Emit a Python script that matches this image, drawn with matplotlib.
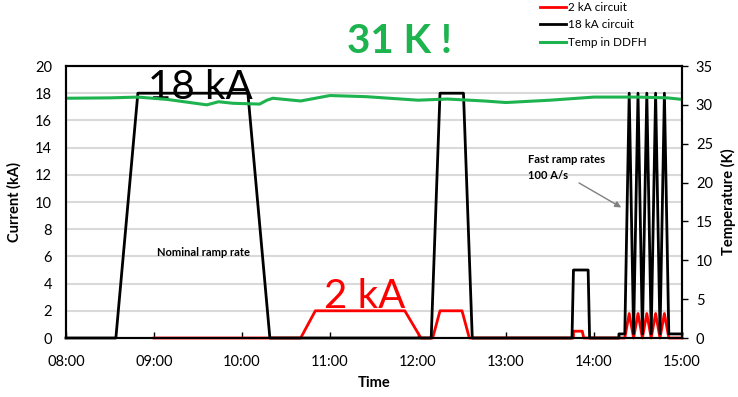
import matplotlib
matplotlib.use("Agg")
import matplotlib.pyplot as plt
import numpy as np

plt.rcParams["font.family"] = ["Lato", "DejaVu Sans"]

# -----------------------------
# data
# -----------------------------
t_18ka = ["08:00", "08:34", "08:49", "10:04", "10:19", "12:09", "12:15", "12:31",
          "12:37", "13:45", "13:46", "13:56", "13:57", "14:17", "14:17", "14:21",
          "14:24", "14:27", "14:30", "14:33", "14:36", "14:39", "14:42", "14:45",
          "14:48", "14:51", "15:00"]
i_18ka = [0, 0, 18, 18, 0, 0, 18, 18,
          0, 0, 5, 5, 0, 0, 0.3, 0.3,
          18, 0.3, 18, 0.3, 18, 0.3, 18, 0.3,
          18, 0.3, 0.3]

t_2ka = ["09:00", "10:40", "10:50", "11:51", "12:02", "12:10", "12:15", "12:30",
         "12:35", "13:46", "13:46", "13:52", "13:53", "14:21", "14:24", "14:27",
         "14:30", "14:33", "14:36", "14:39", "14:42", "14:45", "14:48", "14:51",
         "15:00"]
i_2ka = [0, 0, 2, 2, 0, 0, 2, 2,
         0, 0, 0.5, 0.5, 0, 0, 1.8, 0,
         1.8, 0, 1.8, 0, 1.8, 0, 1.8, 0,
         0]

t_temp = ["08:00", "08:30", "08:49", "09:09", "09:36", "09:44", "09:54", "10:12",
          "10:17", "10:21", "10:40", "11:00", "11:25", "12:00", "12:20", "12:45",
          "13:00", "13:30", "14:00", "14:30", "14:50", "15:00"]
temp_k = [30.85, 30.9, 31.0, 30.7, 30.0, 30.4, 30.2, 30.1,
          30.6, 30.85, 30.5, 31.2, 31.05, 30.6, 30.75, 30.5,
          30.3, 30.6, 31.0, 31.0, 30.9, 30.7]

hour_labels = ["08:00", "09:00", "10:00", "11:00", "12:00", "13:00", "14:00", "15:00"]


def to_hours(times):
    return np.array([int(s[:2]) + int(s[3:]) / 60 for s in times])


RED = "#ff0000"
GREEN = "#1db34f"

fig = plt.figure(figsize=(7.38, 3.97), dpi=100)
ax = fig.add_axes([66 / 738, 1 - 338 / 397, 616 / 738, 272 / 397])
ax2 = ax.twinx()

# grid
ax.set_ylim(0, 20)
ax.set_yticks(np.arange(0, 21, 2))
ax.grid(axis="y", color="#d9d9d9", lw=1.5)
ax.set_axisbelow(True)

l_red, = ax.plot(to_hours(t_2ka), i_2ka, color=RED, lw=2, label="2 kA circuit",
                 zorder=3, clip_on=False)
l_blk, = ax.plot(to_hours(t_18ka), i_18ka, color="black", lw=2, label="18 kA circuit",
                 zorder=4, clip_on=False)
l_grn, = ax2.plot(to_hours(t_temp), temp_k, color=GREEN, lw=2.2, label="Temp in DDFH")

ax.set_xlim(8, 15)
ax.set_xticks(to_hours(hour_labels))
ax.set_xticklabels(hour_labels)
ax2.set_ylim(0, 35)
ax2.set_yticks(np.arange(0, 36, 5))

for sp in ax.spines.values():
    sp.set_linewidth(1.5)
for sp in ax2.spines.values():
    sp.set_linewidth(1.5)

ax.tick_params(axis="y", length=0, pad=10, labelsize=10.5)
ax.tick_params(axis="x", direction="in", length=4, width=1, pad=12, labelsize=10.5)
ax2.tick_params(axis="y", direction="out", length=4, width=1, pad=6, labelsize=10.5)

ax.set_ylabel("Current (kA)", fontweight="bold", fontsize=10.5, labelpad=10)
ax.set_xlabel("Time", fontweight="bold", fontsize=10.5, labelpad=5)
ax2.set_ylabel("Temperature (K)", fontweight="bold", fontsize=10.5, labelpad=6)

# annotations
ax.text(9.53, 17.6, "18 kA", fontsize=29, ha="center", va="baseline", color="black", zorder=5)
ax.text(11.39, 2.2, "2 kA", fontsize=29, ha="center", va="baseline", color=RED, zorder=5)
fig.text(400 / 738, 1 - 53 / 397, "31 K !", fontsize=29, fontweight="bold",
         ha="center", va="baseline", color=GREEN)
ax.text(9.56, 6.27, "Nominal ramp rate", fontsize=8, fontweight="bold", ha="center", va="center")
ax.text(13.25, 12.55, "Fast ramp rates\n100 A/s", fontsize=8, fontweight="bold",
        ha="left", va="center", linespacing=1.6)
ax.annotate("", xy=(14.31, 9.6), xytext=(13.83, 11.4),
            arrowprops=dict(arrowstyle="-|>", color="#808080", lw=1,
                            mutation_scale=9, shrinkA=0, shrinkB=0))

fig.legend(handles=[l_red, l_blk, l_grn], loc="upper left",
           bbox_to_anchor=(540 / 738, 1 - 2 / 397), frameon=False, fontsize=8.5,
           handlelength=2.2, handletextpad=0.15, labelspacing=0.55, borderpad=0,
           borderaxespad=0)

fig.savefig("out.png", dpi=100)
